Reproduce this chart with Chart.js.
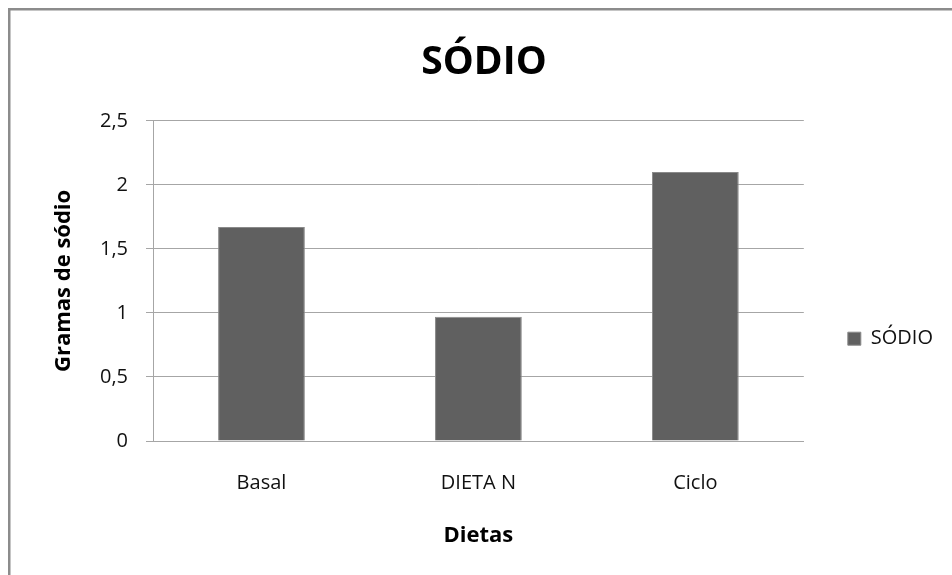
<!DOCTYPE html>
<html>
<head>
<meta charset="utf-8">
<script src="https://cdn.jsdelivr.net/npm/chart.js@4/dist/chart.umd.min.js"></script>
<style>
  html, body { margin: 0; padding: 0; background: #ffffff; }
  #wrap { width: 952px; height: 575px; position: relative; }
</style>
</head>
<body>
<div id="wrap"><canvas id="chart" width="952" height="575"></canvas></div>
<script>
// Sodium intake per diet
const categories = ["Basal", "DIETA N", "Ciclo"];
const sodio = [1.67, 0.97, 2.1];
const yTickLabels = ["0", "0,5", "1", "1,5", "2", "2,5"];

const FONT = "'Open Sans', 'Liberation Sans', sans-serif";
const GRID = "#a6a6a6";
const TEXT = "#111111";

// Outer frame of the chart object (left and top edges)
const framePlugin = {
  id: "frame",
  beforeDraw(chart) {
    const ctx = chart.ctx;
    ctx.save();
    ctx.fillStyle = "#ffffff";
    ctx.fillRect(0, 0, chart.width, chart.height);
    ctx.strokeStyle = "#8c8c8c";
    ctx.lineWidth = 2.5;
    ctx.beginPath();
    ctx.moveTo(9.25, chart.height);
    ctx.lineTo(9.25, 9.25);
    ctx.lineTo(chart.width, 9.25);
    ctx.stroke();
    ctx.restore();
  }
};

new Chart(document.getElementById("chart"), {
  type: "bar",
  data: {
    labels: categories,
    datasets: [{
      label: "SÓDIO",
      data: sodio,
      backgroundColor: "#606060",
      borderColor: "#8a8a8a",
      borderWidth: 1,
      barPercentage: 0.4,
      categoryPercentage: 1.0
    }]
  },
  plugins: [framePlugin],
  options: {
    responsive: false,
    animation: false,
    layout: { padding: { left: 25, right: 9, top: 0, bottom: 26 } },
    plugins: {
      title: {
        display: true,
        text: "SÓDIO",
        color: "#000000",
        font: { family: FONT, size: 39, weight: "bold" },
        padding: { top: 39, bottom: 35 }
      },
      legend: {
        display: true,
        position: "right",
        align: "center",
        // empty title block lowers the single legend entry
        title: { display: true, text: "", padding: { top: 0, bottom: 114 } },
        labels: {
          boxWidth: 13,
          boxHeight: 13,
          padding: 44,
          color: TEXT,
          font: { family: FONT, size: 20 }
        }
      },
      tooltip: { enabled: false }
    },
    scales: {
      x: {
        grid: { display: false, drawTicks: false },
        border: { display: true, color: GRID, width: 1 },
        ticks: {
          color: TEXT,
          font: { family: FONT, size: 20 },
          padding: 30,
          maxRotation: 0
        },
        title: {
          display: true,
          text: "Dietas",
          color: "#000000",
          font: { family: FONT, size: 22, weight: "bold" },
          padding: { top: 0, bottom: 0 }
        },
        afterFit(scale) { scale.height = 108; }
      },
      y: {
        min: 0,
        max: 2.5,
        grid: { color: GRID, lineWidth: 1, drawTicks: true, tickLength: 7, tickColor: GRID },
        border: { display: true, color: GRID, width: 1 },
        ticks: {
          stepSize: 0.5,
          color: TEXT,
          font: { family: FONT, size: 20 },
          padding: 18,
          callback: (value, index) => yTickLabels[index]
        },
        title: {
          display: true,
          text: "Gramas de sódio",
          color: "#000000",
          font: { family: FONT, size: 22, weight: "bold" },
          padding: { top: 26, bottom: 0 }
        },
        afterFit(scale) { scale.width = 128; }
      }
    }
  }
});
</script>
</body>
</html>
